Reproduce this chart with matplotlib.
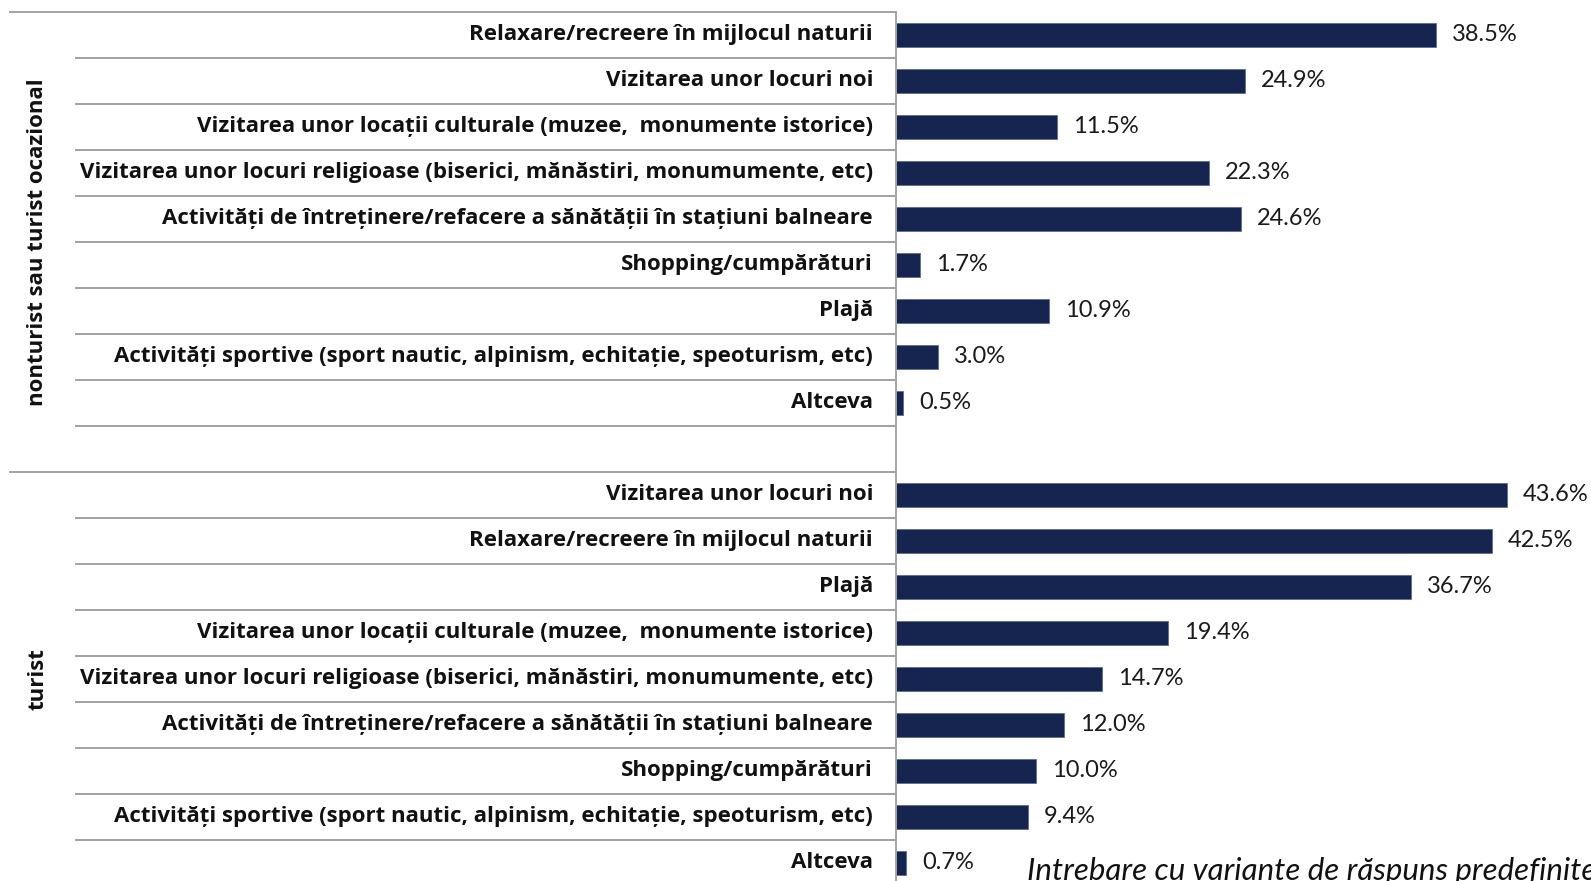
import matplotlib
matplotlib.use("Agg")
import matplotlib.pyplot as plt
from matplotlib.transforms import blended_transform_factory

groups = ["nonturist sau turist ocazional", "turist"]

cats_nonturist = [
    "Relaxare/recreere în mijlocul naturii",
    "Vizitarea unor locuri noi",
    "Vizitarea unor locații culturale (muzee,  monumente istorice)",
    "Vizitarea unor locuri religioase (biserici, mănăstiri, monumumente, etc)",
    "Activități de întreținere/refacere a sănătății în stațiuni balneare",
    "Shopping/cumpărături",
    "Plajă",
    "Activități sportive (sport nautic, alpinism, echitație, speoturism, etc)",
    "Altceva",
]
vals_nonturist = [38.5, 24.9, 11.5, 22.3, 24.6, 1.7, 10.9, 3.0, 0.5]

cats_turist = [
    "Vizitarea unor locuri noi",
    "Relaxare/recreere în mijlocul naturii",
    "Plajă",
    "Vizitarea unor locații culturale (muzee,  monumente istorice)",
    "Vizitarea unor locuri religioase (biserici, mănăstiri, monumumente, etc)",
    "Activități de întreținere/refacere a sănătății în stațiuni balneare",
    "Shopping/cumpărături",
    "Activități sportive (sport nautic, alpinism, echitație, speoturism, etc)",
    "Altceva",
]
vals_turist = [43.6, 42.5, 36.7, 19.4, 14.7, 12.0, 10.0, 9.4, 0.7]

note = "Intrebare cu variante de răspuns predefinite"

plt.rcParams["font.family"] = ["Open Sans", "DejaVu Sans"]

BAR = "#15254f"
GRID = "#a3a3a3"
W, H = 1591, 881
fig = plt.figure(figsize=(W / 100, H / 100), dpi=100)

# plotting area: 19 category slots (9 + blank spacer + 9)
top_px, slot_px, n_slots = 12, 46, 19
axis_x = 896
ax = fig.add_axes([axis_x / W, 1 - (top_px + slot_px * n_slots) / H,
                   1 - axis_x / W, slot_px * n_slots / H])

g1_pos = [i + 0.5 for i in range(len(cats_nonturist))]
g2_start = len(cats_nonturist) + 1
g2_pos = [g2_start + i + 0.5 for i in range(len(cats_turist))]

positions = g1_pos + g2_pos
values = vals_nonturist + vals_turist
labels = cats_nonturist + cats_turist

ax.barh(positions, values, height=0.52, color=BAR, edgecolor="#5d6d92", linewidth=0.6)
for y, v in zip(positions, values):
    ax.annotate(f"{v:.1f}%", (v, y), xytext=(11.5, 0), textcoords="offset points",
                ha="left", va="center", fontsize=17, color="#1a1a1a",
                family=["Lato", "DejaVu Sans"])

ax.set_xlim(0, (W - axis_x) / 14.02)
ax.set_ylim(n_slots, 0)

for s in ["top", "right", "bottom"]:
    ax.spines[s].set_visible(False)
ax.spines["left"].set_color(GRID)
ax.spines["left"].set_linewidth(1.4)
ax.set_xticks([])
ax.set_yticks(range(n_slots + 1))
ax.set_yticklabels([])
ax.tick_params(axis="y", length=5, width=1.4, color="#8c8c8c", direction="out")

trans = blended_transform_factory(fig.transFigure, ax.transData)

# category labels
for y, lab in zip(positions, labels):
    ax.text(873 / W, y, lab, transform=trans, ha="right", va="center",
            fontsize=16, fontweight="bold", color="#111111")

# row separators on the label side
inner_x0, outer_x0, x1 = 75 / W, 9 / W, axis_x / W
for b in range(n_slots + 1):
    x0 = outer_x0 if b in (0, g2_start) else inner_x0
    ax.plot([x0, x1], [b, b], transform=trans, color=GRID, lw=1.4,
            clip_on=False, solid_capstyle="butt")

# group labels
ax.text(38 / W, g2_start / 2, groups[0], transform=trans, rotation=90,
        ha="center", va="center", fontsize=16, fontweight="bold", color="#111111")
ax.text(38 / W, (g2_start + n_slots) / 2, groups[1], transform=trans, rotation=90,
        ha="center", va="center", fontsize=16, fontweight="bold", color="#111111")

fig.text(1027 / W, 1 - 880 / H, note, ha="left", va="baseline",
         fontsize=22.5, style="italic", color="#111111",
         family=["Lato", "DejaVu Sans"])

fig.savefig("out.png", dpi=100)
